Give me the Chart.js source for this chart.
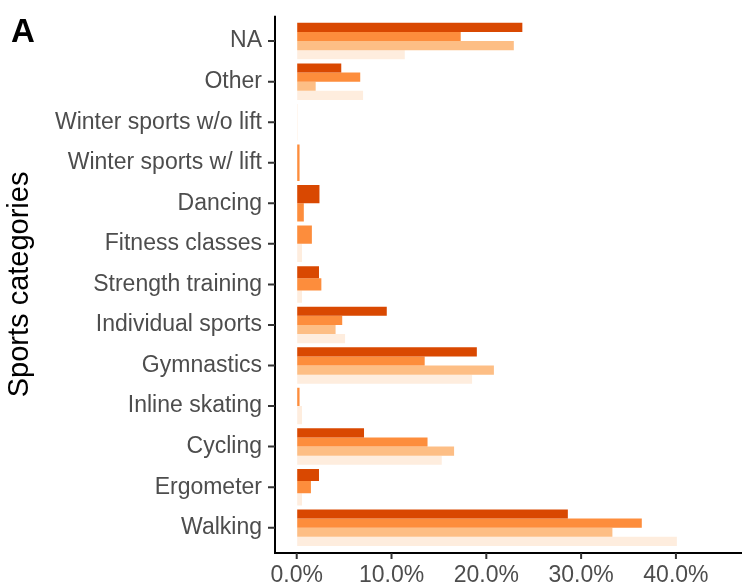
<!DOCTYPE html>
<html>
<head>
<meta charset="utf-8">
<script src="https://cdn.jsdelivr.net/npm/chart.js@4.4.1/dist/chart.umd.min.js"></script>
<style>
  html, body { margin: 0; padding: 0; background: #ffffff; }
  #wrap { position: relative; width: 742px; height: 588px; }
  #panel { position: absolute; left: 11px; top: 14px; font: bold 33px "Liberation Sans", Arial, sans-serif; color: #000; line-height: 1; }
</style>
</head>
<body>
<div id="wrap">
  <canvas id="c" width="742" height="588"></canvas>
  <div id="panel">A</div>
</div>
<script>
// Categories listed top to bottom as shown
const categories = [
  "NA", "Other", "Winter sports w/o lift", "Winter sports w/ lift", "Dancing",
  "Fitness classes", "Strength training", "Individual sports", "Gymnastics",
  "Inline skating", "Cycling", "Ergometer", "Walking"
];
// Percent values per series (null = no bar)
const series1 = [23.8, 4.7, null, null, 2.4, null, 2.35, 9.5, 19.0, null, 7.1, 2.35, 28.6];
const series2 = [17.3, 6.7, null, 0.3, 0.75, 1.6, 2.6, 4.8, 13.5, 0.3, 13.8, 1.5, 36.4];
const series3 = [22.9, 2.0, null, null, null, null, null, 4.1, 20.8, null, 16.6, null, 33.3];
const series4 = [11.4, 7.0, 0.1, null, null, 0.56, 0.56, 5.1, 18.5, 0.56, 15.3, 0.56, 40.1];
const seriesNames = ["Series 1", "Series 2", "Series 3", "Series 4"];
const xTickValues = [0, 10, 20, 30, 40];

const colors = ["#d94801", "#fd8d3c", "#fdbe85", "#feedde"];
const seriesData = [series1, series2, series3, series4];

const axisPlugin = {
  id: 'ggAxes',
  afterDraw(chart) {
    const ctx = chart.ctx;
    const area = chart.chartArea;
    const xs = chart.scales.x, ys = chart.scales.y;
    const axX = area.left;
    const axY = area.bottom + 5;
    ctx.save();
    ctx.strokeStyle = '#000';
    ctx.lineWidth = 2;
    ctx.beginPath();
    ctx.moveTo(axX, area.top - 5);
    ctx.lineTo(axX, axY + 1);
    ctx.moveTo(axX - 1, axY);
    ctx.lineTo(chart.width, axY);
    ctx.stroke();
    ctx.strokeStyle = '#333';
    ctx.lineWidth = 2;
    ctx.beginPath();
    ys.ticks.forEach((t, i) => {
      const p = ys.getPixelForTick(i);
      ctx.moveTo(axX - 7, p);
      ctx.lineTo(axX, p);
    });
    xs.ticks.forEach((t, i) => {
      const p = xs.getPixelForTick(i);
      ctx.moveTo(p, axY);
      ctx.lineTo(p, axY + 6);
    });
    ctx.stroke();
    ctx.restore();
  }
};

const tickFont = { family: "'Liberation Sans', Arial, sans-serif", size: 23 };

new Chart(document.getElementById('c'), {
  type: 'bar',
  data: {
    labels: categories,
    datasets: seriesData.map((d, i) => ({
      label: seriesNames[i],
      data: d,
      backgroundColor: colors[i],
      borderWidth: 0,
      categoryPercentage: 0.9,
      barPercentage: 1.0
    }))
  },
  options: {
    indexAxis: 'y',
    responsive: false,
    animation: false,
    devicePixelRatio: 1,
    skipNull: true,
    layout: { padding: { top: 20.4, right: 0, bottom: 0, left: 0 } },
    plugins: { legend: { display: false }, tooltip: { enabled: false } },
    scales: {
      x: {
        type: 'linear',
        min: -2.29,
        max: 46.97,
        afterBuildTicks: (s) => { s.ticks = xTickValues.map(v => ({ value: v })); },
        afterFit: (s) => { s.height = 40; },
        grid: { drawOnChartArea: false, color: 'rgba(0,0,0,0)', tickLength: 10 },
        border: { display: false },
        ticks: {
          color: '#4d4d4d', font: tickFont, padding: 4, autoSkip: false, maxRotation: 0,
          callback: (v) => Number(v).toFixed(1) + '%'
        }
      },
      y: {
        afterFit: (s) => { s.width = 275; },
        grid: { drawOnChartArea: false, color: 'rgba(0,0,0,0)', tickLength: 6 },
        border: { display: false },
        ticks: { color: '#4d4d4d', font: tickFont, padding: 7, autoSkip: false },
        title: {
          display: true, text: 'Sports categories', color: '#000',
          font: { family: "'Liberation Sans', Arial, sans-serif", size: 29 },
          padding: { top: 3, bottom: 0 }
        }
      }
    }
  },
  plugins: [axisPlugin]
});
</script>
</body>
</html>
